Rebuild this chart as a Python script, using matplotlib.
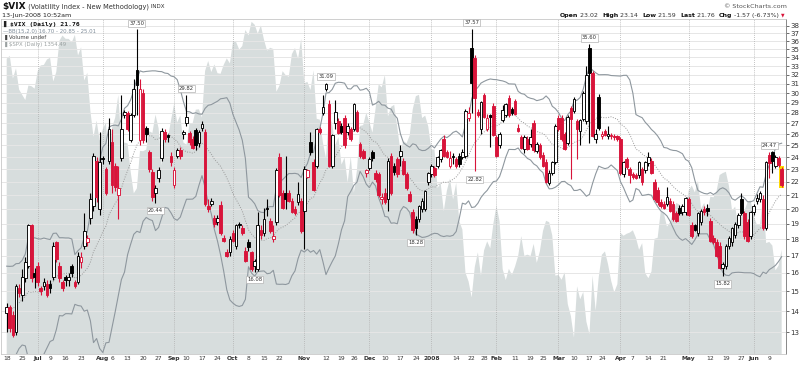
import numpy as np
import pandas as pd
import matplotlib
matplotlib.use("Agg")
import matplotlib.pyplot as plt

# trading calendar for the chart window
holidays = ["2007-07-04", "2007-09-03", "2007-11-22", "2007-12-25", "2008-01-01",
            "2008-01-21", "2008-02-18", "2008-03-21", "2008-05-26"]
bday = pd.offsets.CustomBusinessDay(holidays=holidays)
dates = pd.date_range("2007-06-18", "2008-06-13", freq=bday)

# $VIX daily candles
vix_open = [
    13.9, 14.2, 13.8, 13.0, 15.2, 14.8, 15.7, 16.4, 18.9, 16.0,
    16.4, 15.2, 15.3, 15.4, 15.4, 15.8, 17.8, 16.4, 15.5, 15.8,
    15.6, 16.4, 15.5, 15.5, 16.6, 17.6, 17.8, 19.4, 20.2, 23.7,
    20.0, 23.9, 23.0, 23.7, 25.3, 23.3, 21.0, 23.9, 27.8, 28.0,
    25.5, 27.8, 32.5, 25.5, 30.0, 26.6, 24.4, 22.8, 21.2, 22.3,
    23.9, 26.2, 25.9, 24.1, 21.8, 24.1, 24.6, 26.0, 27.0, 26.1,
    25.6, 26.4, 25.2, 26.6, 26.2, 20.2, 20.4, 19.4, 19.1, 20.3,
    18.1, 17.2, 17.2, 18.4, 17.6, 19.0, 18.7, 17.3, 17.8, 17.2,
    16.4, 16.2, 18.6, 18.4, 20.1, 19.2, 18.0, 19.1, 24.0, 21.2,
    21.2, 21.2, 20.6, 20.0, 20.5, 20.6, 19.9, 22.4, 25.3, 23.6,
    23.3, 26.5, 28.0, 30.5, 28.9, 23.3, 27.0, 27.2, 26.8, 27.5,
    26.2, 26.5, 26.5, 28.1, 25.1, 24.5, 22.7, 23.1, 24.4, 22.7,
    22.6, 20.7, 21.2, 20.7, 24.1, 23.3, 23.8, 24.1, 23.7, 22.6,
    21.1, 19.8, 19.3, 19.3, 20.0, 20.0, 22.0, 22.6, 23.1, 23.3,
    23.8, 25.6, 24.4, 23.3, 24.1, 23.8, 24.1, 24.0, 24.1, 27.5,
    35.2, 33.9, 28.1, 26.5, 29.8, 26.5, 27.8, 28.7, 25.7, 25.0,
    27.3, 27.8, 29.5, 28.4, 29.2, 26.6, 25.7, 24.7, 25.6, 25.1,
    27.0, 24.5, 25.0, 24.2, 23.6, 21.9, 22.7, 23.6, 27.5, 27.5,
    26.0, 25.2, 28.5, 28.2, 27.2, 26.3, 27.4, 27.2, 35.2, 32.2,
    25.6, 29.6, 25.8, 26.3, 25.8, 25.9, 25.8, 25.8, 25.6, 22.6,
    23.8, 23.0, 22.6, 22.5, 22.5, 23.0, 22.9, 23.5, 23.7, 22.0,
    21.4, 20.5, 20.4, 20.4, 20.6, 20.4, 19.7, 20.1, 19.8, 19.8,
    20.7, 18.9, 18.9, 18.4, 19.1, 20.0, 20.1, 19.2, 18.1, 17.8,
    17.6, 16.3, 16.4, 17.6, 17.8, 18.3, 18.9, 20.7, 19.7, 19.1,
    18.2, 19.8, 20.6, 20.7, 20.7, 18.7, 24.2, 24.4, 23.3, 23.9,
    23.02,
]
vix_high = [
    14.4, 14.3, 14.0, 15.4, 15.4, 16.2, 16.9, 19.0, 19.0, 16.3,
    16.6, 15.3, 15.7, 15.6, 15.6, 17.8, 17.9, 16.6, 15.6, 15.9,
    16.0, 16.5, 15.6, 17.2, 17.2, 19.7, 18.3, 21.2, 24.3, 24.0,
    26.2, 24.1, 23.2, 27.5, 26.5, 23.5, 23.3, 29.8, 28.3, 28.2,
    28.0, 31.5, 37.50, 31.5, 30.5, 26.8, 24.6, 23.0, 21.8, 23.2,
    26.6, 26.5, 26.0, 24.4, 23.2, 24.8, 24.9, 26.4, 29.82, 26.3,
    25.8, 26.6, 26.4, 27.2, 26.5, 20.7, 20.8, 19.6, 19.6, 20.6,
    18.3, 17.4, 18.2, 18.6, 19.0, 19.1, 18.9, 17.5, 18.0, 17.3,
    16.8, 19.8, 18.9, 20.1, 20.7, 19.4, 18.9, 23.1, 24.3, 21.4,
    24.1, 21.4, 20.8, 20.2, 22.0, 20.8, 23.3, 23.0, 26.2, 23.8,
    26.6, 26.7, 29.8, 31.09, 29.3, 26.0, 29.3, 27.5, 27.0, 27.8,
    27.0, 26.7, 29.0, 28.3, 25.3, 24.7, 23.0, 24.0, 24.6, 22.9,
    22.8, 21.2, 21.5, 23.9, 24.3, 23.5, 24.0, 25.0, 23.9, 22.8,
    21.3, 20.0, 19.5, 20.3, 20.8, 21.4, 22.8, 23.4, 23.3, 24.1,
    24.7, 25.9, 24.6, 24.5, 24.3, 24.0, 24.3, 24.7, 28.4, 28.6,
    37.57, 34.3, 28.4, 29.2, 30.0, 27.9, 27.9, 29.0, 25.9, 26.2,
    28.8, 29.0, 29.8, 28.6, 29.4, 26.9, 25.9, 25.9, 25.8, 26.5,
    27.3, 25.3, 25.2, 24.4, 23.8, 22.9, 23.7, 26.9, 27.8, 27.8,
    26.2, 27.8, 28.7, 29.6, 27.4, 27.4, 30.2, 33.0, 35.60, 32.4,
    26.5, 29.9, 26.3, 26.5, 26.8, 26.1, 26.0, 25.9, 25.7, 23.7,
    24.0, 23.2, 22.8, 22.7, 23.7, 23.2, 23.7, 24.4, 23.9, 22.2,
    21.6, 20.7, 20.6, 21.6, 20.8, 20.6, 19.9, 20.3, 20.4, 20.9,
    20.9, 19.1, 19.0, 19.8, 20.0, 20.2, 20.4, 19.4, 18.3, 18.0,
    17.8, 16.6, 17.7, 18.2, 18.8, 19.1, 19.7, 21.2, 19.9, 19.3,
    19.9, 20.4, 21.1, 21.3, 21.0, 23.7, 24.47, 24.5, 24.2, 24.1,
    23.14,
]
vix_low = [
    13.0, 13.0, 12.8, 12.9, 14.7, 14.5, 15.5, 16.3, 15.5, 15.2,
    15.3, 14.8, 15.1, 14.7, 14.9, 15.6, 16.6, 15.5, 15.0, 15.3,
    15.3, 15.8, 15.2, 15.4, 16.3, 17.4, 17.6, 19.0, 19.9, 20.5,
    19.6, 23.4, 21.0, 23.4, 21.2, 21.3, 19.3, 23.7, 27.5, 26.3,
    25.3, 27.6, 27.8, 25.0, 25.2, 25.3, 22.8, 20.6, 20.44, 22.0,
    23.7, 25.3, 25.3, 23.3, 21.5, 23.9, 23.8, 25.6, 26.8, 25.0,
    24.7, 24.6, 24.9, 26.3, 20.2, 19.8, 20.2, 18.8, 18.9, 18.3,
    17.8, 16.9, 17.0, 17.8, 17.4, 18.7, 18.3, 16.6, 17.3, 16.1,
    16.08, 16.1, 18.0, 18.2, 19.5, 18.4, 17.8, 18.9, 20.9, 20.0,
    20.0, 20.5, 19.7, 19.6, 20.3, 18.4, 17.4, 22.3, 24.2, 21.3,
    23.1, 26.0, 27.8, 30.2, 23.2, 23.1, 26.5, 26.0, 26.0, 24.8,
    25.9, 25.4, 26.3, 26.2, 23.9, 23.8, 22.4, 22.9, 23.7, 22.0,
    20.9, 20.4, 20.4, 19.9, 21.0, 22.5, 22.4, 23.3, 22.5, 21.4,
    20.5, 18.4, 18.28, 19.1, 19.8, 19.9, 21.8, 22.4, 22.4, 23.1,
    23.6, 24.0, 23.9, 23.1, 23.4, 23.1, 23.2, 23.8, 23.9, 27.2,
    28.0, 22.82, 27.6, 26.0, 27.5, 26.3, 24.9, 25.8, 24.0, 24.8,
    27.1, 27.6, 27.6, 27.8, 27.8, 26.2, 24.7, 24.3, 24.6, 24.9,
    24.4, 24.3, 23.8, 23.2, 21.9, 21.8, 22.5, 23.4, 26.3, 25.4,
    24.6, 25.0, 22.2, 28.0, 23.8, 25.0, 27.2, 26.9, 25.2, 25.7,
    25.2, 26.4, 25.6, 25.8, 25.6, 25.6, 25.5, 25.4, 22.5, 22.4,
    23.0, 21.9, 22.2, 22.2, 22.3, 21.8, 22.7, 23.3, 22.6, 20.6,
    20.3, 20.1, 20.0, 20.2, 19.8, 19.2, 19.1, 19.6, 19.6, 19.6,
    19.5, 18.1, 18.5, 18.2, 18.9, 19.6, 19.5, 17.8, 17.7, 16.9,
    16.2, 15.82, 16.2, 17.4, 17.6, 18.1, 18.7, 19.6, 18.0, 17.8,
    18.0, 19.6, 20.4, 20.5, 18.6, 18.6, 22.3, 22.7, 23.1, 23.2,
    21.59,
]
vix_close = [
    14.2, 13.2, 12.9, 15.3, 14.9, 15.8, 16.6, 18.9, 15.7, 15.8,
    15.5, 15.0, 15.5, 14.8, 15.2, 17.6, 16.8, 15.7, 15.2, 15.6,
    15.8, 16.0, 15.3, 17.0, 16.9, 18.5, 18.1, 20.7, 24.1, 20.9,
    23.6, 23.8, 21.2, 26.5, 21.8, 21.6, 21.5, 26.5, 28.1, 26.5,
    27.8, 30.5, 30.9, 30.4, 25.5, 26.0, 23.0, 20.9, 21.5, 22.9,
    26.3, 25.6, 25.7, 23.6, 22.9, 24.6, 24.1, 26.2, 27.6, 25.3,
    24.8, 25.0, 26.2, 26.9, 20.4, 20.0, 20.6, 19.0, 19.4, 18.4,
    17.9, 17.0, 18.0, 17.9, 18.9, 18.95, 18.4, 16.7, 17.5, 16.2,
    16.7, 18.9, 18.3, 19.3, 20.0, 18.5, 18.2, 22.9, 21.0, 20.1,
    20.7, 20.6, 19.8, 19.7, 21.1, 18.5, 23.0, 22.9, 24.4, 21.4,
    26.5, 26.2, 28.6, 31.0, 23.3, 25.9, 28.1, 26.1, 26.2, 25.0,
    26.8, 25.6, 28.9, 26.3, 24.1, 23.9, 22.9, 23.8, 23.9, 22.2,
    21.0, 20.9, 20.5, 23.7, 21.2, 22.8, 22.6, 24.5, 22.6, 21.5,
    20.6, 18.6, 18.7, 20.2, 20.6, 21.3, 22.7, 23.3, 22.5, 24.0,
    24.6, 24.1, 24.0, 23.9, 24.0, 23.3, 23.4, 24.4, 28.2, 28.0,
    31.1, 29.5, 27.8, 29.1, 27.6, 27.5, 27.6, 25.9, 24.1, 26.0,
    28.3, 28.9, 27.8, 28.0, 27.9, 26.3, 24.8, 25.7, 24.7, 25.7,
    24.6, 25.1, 24.0, 23.3, 22.0, 22.7, 23.6, 26.8, 26.5, 25.6,
    24.7, 27.6, 27.4, 29.4, 26.5, 27.3, 30.0, 32.0, 32.2, 25.8,
    26.0, 26.6, 26.0, 25.9, 26.0, 25.8, 25.7, 25.6, 22.7, 23.6,
    23.2, 22.5, 22.4, 22.3, 23.6, 22.0, 23.6, 24.0, 22.7, 20.7,
    20.5, 20.2, 20.1, 20.9, 19.9, 19.3, 19.2, 19.7, 20.2, 20.8,
    19.6, 18.2, 18.6, 19.7, 19.9, 19.8, 19.9, 17.9, 17.8, 17.0,
    16.3, 16.5, 17.6, 18.1, 18.7, 19.0, 19.6, 19.7, 18.2, 17.9,
    19.8, 20.2, 20.8, 21.2, 18.7, 23.6, 23.5, 23.7, 24.0, 23.33,
    21.76,
]
# closes before the window, only to seed the 15-day bands
prior_close = [13.0, 13.1, 13.0, 12.8, 13.3, 14.1, 15.2, 16.4, 15.0, 16.0,
               15.2, 13.9, 13.2, 13.4]

# $SPX daily close (background area)
spx_close = [
    1531.1, 1533.7, 1512.8, 1522.2, 1502.6, 1497.7, 1492.9, 1506.3, 1505.7, 1503.4,
    1519.4, 1524.9, 1525.4, 1530.4, 1531.9, 1510.1, 1518.8, 1547.7, 1552.5, 1549.5,
    1549.4, 1546.2, 1553.1, 1534.1, 1541.6, 1511.0, 1518.1, 1482.7, 1459.0, 1473.9,
    1455.3, 1465.8, 1472.2, 1433.1, 1467.7, 1476.7, 1497.5, 1453.1, 1453.6, 1452.9,
    1426.5, 1406.7, 1411.3, 1445.9, 1445.6, 1447.1, 1464.1, 1462.5, 1479.4, 1466.8,
    1432.4, 1463.8, 1457.6, 1474.0, 1489.4, 1472.3, 1478.6, 1453.6, 1451.7, 1471.5,
    1471.6, 1484.0, 1484.3, 1476.7, 1519.8, 1529.0, 1518.8, 1525.8, 1517.7, 1517.2,
    1525.4, 1531.4, 1526.8, 1547.0, 1546.6, 1539.6, 1542.8, 1557.6, 1552.6, 1565.2,
    1562.5, 1554.4, 1561.8, 1548.7, 1538.5, 1541.2, 1540.1, 1500.6, 1506.3, 1519.6,
    1515.9, 1514.4, 1535.3, 1541.0, 1531.0, 1549.4, 1508.4, 1509.7, 1502.2, 1520.3,
    1475.6, 1474.8, 1453.7, 1439.2, 1481.1, 1470.6, 1451.2, 1458.7, 1433.3, 1439.7,
    1416.8, 1440.7, 1407.2, 1428.2, 1469.0, 1469.7, 1481.1, 1472.4, 1462.8, 1485.0,
    1507.3, 1504.7, 1516.0, 1477.7, 1486.6, 1488.4, 1468.0, 1445.9, 1455.0, 1453.0,
    1460.1, 1484.5, 1496.5, 1497.7, 1476.3, 1478.5, 1468.4, 1447.2, 1447.2, 1411.6,
    1416.2, 1390.2, 1409.1, 1420.3, 1401.0, 1416.3, 1381.0, 1373.2, 1333.3, 1325.2,
    1310.5, 1338.6, 1352.1, 1330.6, 1354.0, 1362.3, 1355.8, 1378.6, 1395.4, 1380.8,
    1336.6, 1326.5, 1336.9, 1331.3, 1339.1, 1348.9, 1367.2, 1348.9, 1350.0, 1348.8,
    1360.0, 1342.5, 1353.1, 1371.8, 1381.3, 1380.0, 1367.7, 1330.6, 1331.3, 1326.8,
    1333.7, 1304.3, 1293.4, 1273.4, 1320.7, 1308.8, 1315.5, 1288.1, 1276.6, 1330.7,
    1298.4, 1329.5, 1349.9, 1353.0, 1341.1, 1325.8, 1315.2, 1322.7, 1370.2, 1367.5,
    1369.3, 1370.4, 1372.5, 1365.5, 1354.5, 1360.6, 1332.8, 1328.3, 1334.4, 1364.7,
    1365.6, 1390.3, 1388.2, 1375.9, 1379.9, 1388.8, 1397.8, 1396.4, 1390.9, 1385.6,
    1409.3, 1413.9, 1407.5, 1418.3, 1392.6, 1397.7, 1388.3, 1403.6, 1403.0, 1408.7,
    1423.6, 1425.4, 1426.6, 1413.4, 1390.7, 1394.4, 1375.9, 1385.4, 1390.8, 1398.3,
    1400.4, 1385.7, 1377.7, 1377.2, 1404.1, 1360.7, 1361.8, 1358.4, 1335.5, 1339.9,
    1354.5,
]

# bottom axis labels
tick_dates = ["2007-06-18", "2007-06-25", "2007-07-02", "2007-07-09", "2007-07-16",
              "2007-07-23", "2007-08-01", "2007-08-06", "2007-08-13", "2007-08-20",
              "2007-08-27", "2007-09-04", "2007-09-10", "2007-09-17", "2007-09-24",
              "2007-10-01", "2007-10-08", "2007-10-15", "2007-10-22", "2007-11-01",
              "2007-11-12", "2007-11-19", "2007-11-26", "2007-12-03", "2007-12-10",
              "2007-12-17", "2007-12-24", "2008-01-02", "2008-01-14", "2008-01-22",
              "2008-01-28", "2008-02-01", "2008-02-11", "2008-02-19", "2008-02-25",
              "2008-03-03", "2008-03-10", "2008-03-17", "2008-03-24", "2008-04-01",
              "2008-04-07", "2008-04-14", "2008-04-21", "2008-05-01", "2008-05-12",
              "2008-05-19", "2008-05-27", "2008-06-02", "2008-06-09"]
tick_labels = ["18", "25", "Jul", "9", "16", "23", "Aug", "6", "13", "20", "27",
               "Sep", "10", "17", "24", "Oct", "8", "15", "22", "Nov", "12", "19",
               "26", "Dec", "10", "17", "24", "2008", "14", "22", "28", "Feb", "11",
               "19", "25", "Mar", "10", "17", "24", "Apr", "7", "14", "21", "May",
               "12", "19", "27", "Jun", "9"]
month_starts = ["2007-07-02", "2007-08-01", "2007-09-04", "2007-10-01", "2007-11-01",
                "2007-12-03", "2008-01-02", "2008-02-01", "2008-03-03", "2008-04-01",
                "2008-05-01", "2008-06-02"]

high_marks = [42, 58, 103, 150, 188, 246]
low_marks = [48, 80, 132, 151, 231]

RED = "#d8143a"
W, H = 800, 365

o = np.array(vix_open)
hi = np.array(vix_high)
lo = np.array(vix_low)
c = np.array(vix_close)
n = len(c)
x = np.arange(n)

# Bollinger bands 15, 2.0
s = pd.Series(prior_close + vix_close)
mid = s.rolling(15).mean().to_numpy()[len(prior_close):]
sd = s.rolling(15).std(ddof=0).to_numpy()[len(prior_close):]
upper = mid + 2 * sd
lower = mid - 2 * sd

fig = plt.figure(figsize=(W / 100, H / 100), dpi=100)
pos = [1 / W, 11 / H, 785 / W, 335 / H]
xlim = (-1.84, 251.4)

# SPX area behind everything
ax2 = fig.add_axes(pos)
ax2.fill_between(x, spx_close, 1200, color="#d7dddd", lw=0)
ax2.set_xlim(*xlim)
ax2.set_ylim(1258.2, 1567.8)
ax2.axis("off")

ax = fig.add_axes(pos)
ax.patch.set_alpha(0)
ax.set_yscale("log")
ax.set_xlim(*xlim)
ax.set_ylim(12.05, 38.9)

yt = list(range(13, 39))
ax.set_yticks(yt)
ax.set_yticklabels([str(v) for v in yt])
ax.minorticks_off()
ax.yaxis.tick_right()
ax.tick_params(axis="y", labelsize=5, colors="#333333", length=2, pad=1, width=0.5)
ax.grid(axis="y", color="#e6e6e6", lw=0.7)
ax.set_axisbelow(True)

tick_x = [dates.get_loc(pd.Timestamp(d)) for d in tick_dates]
ax.set_xticks(tick_x)
ax.set_xticklabels(tick_labels)
ax.tick_params(axis="x", labelsize=4.3, colors="#333333", length=0, pad=1.5)
for lab in ax.get_xticklabels():
    if not lab.get_text().isdigit() or len(lab.get_text()) == 4:
        lab.set_fontweight("bold")

for d in month_starts:
    ax.axvline(dates.get_loc(pd.Timestamp(d)), color="#b0b0b0", lw=0.6,
               ls=(0, (1, 1.5)), zorder=1)

for side in ["top", "bottom", "left"]:
    ax.spines[side].set_color("#c8c8c8")
    ax.spines[side].set_linewidth(0.6)
ax.spines["right"].set_color("#888888")
ax.spines["right"].set_linewidth(0.7)

# bands
ax.plot(x, upper, color="#8e979e", lw=0.8, zorder=2)
ax.plot(x, lower, color="#8e979e", lw=0.8, zorder=2)
ax.plot(x, mid, color="#9a9a9a", lw=0.7, ls=(0, (1, 1.5)), zorder=2)

# candles
prev = np.r_[o[0], c[:-1]]
col = np.where(c >= prev, "black", RED)
hollow = c > o
ax.vlines(x, lo, hi, colors=col, lw=0.8, zorder=3)
blo = np.minimum(o, c)
bhi = np.maximum(o, c)
ax.bar(x[-1], bhi[-1] - blo[-1] + 0.5, bottom=blo[-1] - 0.25, width=1.5,
       color="#ffd800", lw=0, zorder=2.8)
ax.bar(x, bhi - blo, bottom=blo, width=0.85,
       color=np.where(hollow, "white", col), edgecolor=col, linewidth=0.65, zorder=4)

box = dict(boxstyle="square,pad=0.2", fc="white", ec="#b4b4b4", lw=0.5)
for i in high_marks:
    ax.annotate(f"{hi[i]:.2f}", (i, hi[i]), xytext=(0, 4.6), textcoords="offset points",
                ha="center", va="center", fontsize=3.8, color="#333333", bbox=box,
                zorder=6)
for i in low_marks:
    ax.annotate(f"{lo[i]:.2f}", (i, lo[i]), xytext=(0, -5.6), textcoords="offset points",
                ha="center", va="center", fontsize=3.8, color="#333333", bbox=box,
                zorder=6)


def fx(px):
    return px / W


def fy(py):
    return 1 - py / H


renderer = fig.canvas.get_renderer()


def put_row(x0, y0, pieces):
    xx = x0
    for txt, kw in pieces:
        t = fig.text(fx(xx), fy(y0), txt, va="baseline", parse_math=False, **kw)
        xx += t.get_window_extent(renderer).width


# header
put_row(2, 8.5, [("$VIX", dict(size=6.5, weight="bold", color="#111111")),
                 (" (Volatility Index - New Methodology)", dict(size=4.8, color="#333333")),
                 (" INDX", dict(size=4.0, color="#333333"))])
fig.text(fx(2), fy(16.5), "13-Jun-2008 10:52am", size=4.6, color="#222222", va="baseline")
fig.text(fx(787), fy(7.5), "\u00a9 StockCharts.com", size=4.6, color="#555555",
         ha="right", va="baseline")
B = dict(size=4.5, weight="bold", color="#111111")
N = dict(size=4.5, color="#333333")
put_row(560, 16.8, [("Open", B), (" 23.02  ", N), ("High", B), (" 23.14  ", N),
                    ("Low", B), (" 21.59  ", N), ("Last", B), (" 21.76  ", N),
                    ("Chg", B), (" -1.57 (-6.73%) ", N), ("\u25bc", dict(size=3.3, color=RED))])

# legend block
fig.text(fx(3), fy(26), "\u258c", size=4.5, color="#222222", va="baseline")
fig.text(fx(10), fy(26), "$VIX (Daily) 21.76", size=4.6, family="DejaVu Sans Mono",
         weight="bold", color="#111111", va="baseline", parse_math=False)
fig.text(fx(3), fy(32.5), "\u2014BB(15,2.0) 16.70 - 20.85 - 25.01", size=3.9,
         color="#7f8c99", va="baseline")
fig.text(fx(3), fy(39), "\u2590 Volume undef", size=3.9, color="#444444", va="baseline")
fig.text(fx(3), fy(45.5), "\u2590 $SPX (Daily) 1354.49", size=3.9, color="#9aa0a0",
         va="baseline", parse_math=False)

fig.savefig("out.png", dpi=100)
